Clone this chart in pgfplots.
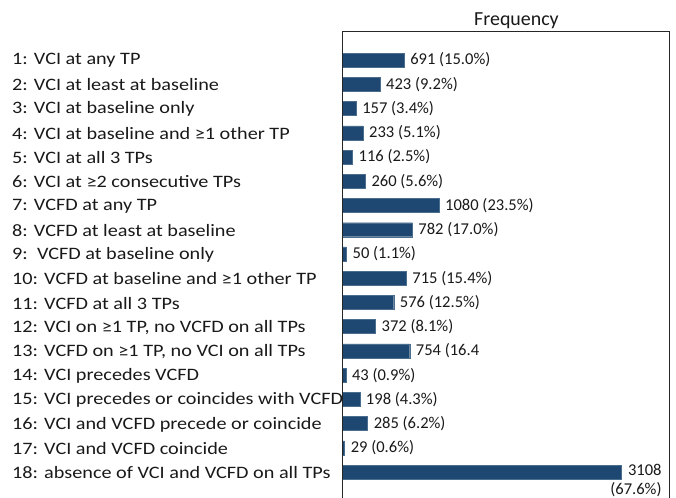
\documentclass[border=0pt]{standalone}
\usepackage{fontspec}
\setmainfont{Carlito}
\newfontfamily\labfont{Carlito}[FakeStretch=1.16]
\usepackage{pgfplots}
\pgfplotsset{compat=1.18}
\definecolor{barblue}{RGB}{30,72,114}
\begin{document}
\begin{tikzpicture}
\begin{axis}[
  name=ax,
  scale only axis,
  width=327bp, height=467bp,
  xbar, bar width=14bp, bar shift=0pt,
  y dir=reverse,
  xmin=0, xmax=3640,
  ymin=-0.2, ymax=19.07,
  hide axis,
  ytick=\empty, xtick=\empty,
  point meta=explicit symbolic,
  nodes near coords,
  every node near coord/.append style={font=\fontsize{16.6}{19}\selectfont, anchor=west, inner sep=0pt, xshift=6bp, text=black!90},
  clip=false,
]
\addplot[fill=barblue, draw=barblue!80!white, line width=0.4pt] coordinates {
(691,1) [691 (15.0\%)]
(423,2) [423 (9.2\%)]
(157,3) [157 (3.4\%)]
(233,4) [233 (5.1\%)]
(116,5) [116 (2.5\%)]
(260,6) [260 (5.6\%)]
(1080,7) [1080 (23.5\%)]
(782,8) [782 (17.0\%)]
(50,9) [50 (1.1\%)]
(715,10) [715 (15.4\%)]
(576,11) [576 (12.5\%)]
(372,12) [372 (8.1\%)]
(754,13) [754 (16.4]
(43,14) [43 (0.9\%)]
(198,15) [198 (4.3\%)]
(285,16) [285 (6.2\%)]
(29,17) [29 (0.6\%)]
};
\addplot[fill=barblue, draw=barblue!80!white, line width=0.4pt,
  every node near coord/.append style={anchor=north west, align=right, xshift=-17bp, yshift=8bp}]
  coordinates {(3108,18) [3108\\(67.6\%)]};
\end{axis}
\draw[black!85, line width=0.8pt] (ax.south west) -- (ax.north west) -- (ax.north east) -- (ax.south east);
\node[font=\fontsize{20}{24}\selectfont, anchor=base, text=black!90] at ([xshift=11bp,yshift=5.3bp]ax.north) {Frequency};
\begin{scope}[font=\labfont\fontsize{17.5}{21}\selectfont, every node/.style={anchor=west, inner sep=0pt, text=black!90}]
\foreach \t [count=\i] in {
 {1: VCI at any TP},
 {2: VCI at least at baseline},
 {3: VCI at baseline only},
 {4: VCI at baseline and ≥1 other TP},
 {5: VCI at all 3 TPs},
 {6: VCI at ≥2 consecutive TPs},
 {7: VCFD at any TP},
 {8: VCFD at least at baseline},
 {9:\ \ VCFD at baseline only},
 {10: VCFD at baseline and ≥1 other TP},
 {11: VCFD at all 3 TPs},
 {12: VCI on ≥1 TP, no VCFD on all TPs},
 {13: VCFD on ≥1 TP, no VCI on all TPs},
 {14: VCI precedes VCFD},
 {15: VCI precedes or coincides with VCFD},
 {16: VCI and VCFD precede or coincide},
 {17: VCI and VCFD coincide},
 {18: absence of VCI and VCFD on all TPs}}
 {\node at ([xshift=-330bp,yshift={-29.5bp-(\i-1)*24.26bp}]ax.north west) {\t};}
\end{scope}
\pgfresetboundingbox
\path[use as bounding box] ([xshift=-342bp]ax.south west) rectangle ([xshift=7bp,yshift=31bp]ax.north east);
\end{tikzpicture}
\end{document}
